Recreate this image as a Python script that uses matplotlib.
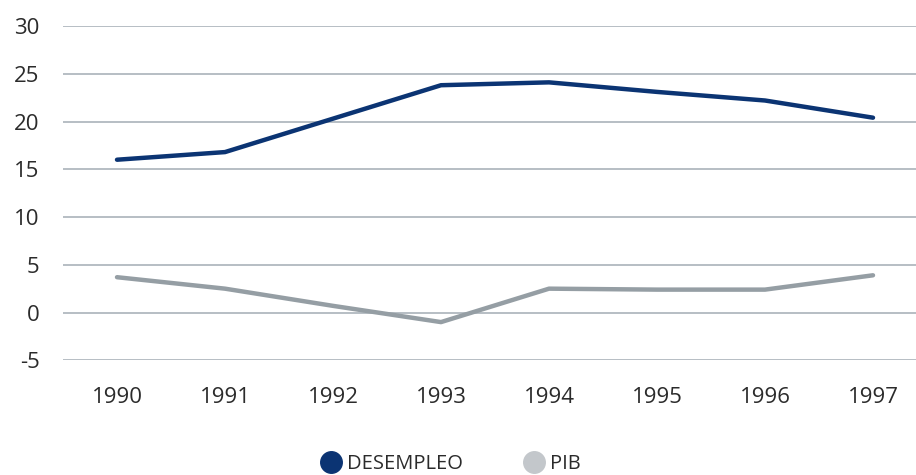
import matplotlib
matplotlib.use("Agg")
import matplotlib.pyplot as plt
from matplotlib.lines import Line2D

years = ["1990", "1991", "1992", "1993", "1994", "1995", "1996", "1997"]
desempleo = [16.0, 16.8, 20.3, 23.8, 24.1, 23.1, 22.2, 20.4]
pib = [3.7, 2.5, 0.7, -1.0, 2.5, 2.4, 2.4, 3.9]
yticks = [-5, 0, 5, 10, 15, 20, 25, 30]

navy = "#0B3473"
grey = "#959EA4"
grey_leg = "#C3C7CB"
grid = "#A3ACB4"
txt = "#2B2B2B"

plt.rcParams['font.family'] = ['Open Sans', 'DejaVu Sans']

fig = plt.figure(figsize=(9.16, 4.75), dpi=100)
W, H = 916, 475
top_px, bot_px = 26, 360.3
ax = fig.add_axes([63 / W, 1 - bot_px / H, (927 - 63) / W, (bot_px - top_px) / H])
x = list(range(len(years)))
ax.plot(x, desempleo, color=navy, lw=3.2, solid_capstyle='round', solid_joinstyle='round', zorder=3)
ax.plot(x, pib, color=grey, lw=3.2, solid_capstyle='round', solid_joinstyle='round', zorder=3)
ax.set_xlim(-0.5, 7.5)
ax.set_ylim(-5, 30)
ax.set_yticks(yticks)
ax.set_yticklabels([str(v) for v in yticks])
ax.set_xticks(x)
ax.set_xticklabels(years)
for v in yticks:
    ax.axhline(v, color=grid, lw=1.1, zorder=1)
for s in ax.spines.values():
    s.set_visible(False)
ax.tick_params(axis='both', length=0, labelsize=16, colors=txt)
ax.tick_params(axis='y', pad=17)
ax.tick_params(axis='x', pad=19)

handles = [
    Line2D([], [], linestyle='none', marker='o', markersize=15.5, markerfacecolor=navy, markeredgecolor=navy),
    Line2D([], [], linestyle='none', marker='o', markersize=15.5, markerfacecolor=grey_leg, markeredgecolor=grey_leg),
]
leg = fig.legend(handles, ["DESEMPLEO", "PIB"], loc='center', bbox_to_anchor=(451 / W, 1 - 464 / H),
                 ncol=2, frameon=False, fontsize=14.5, handletextpad=0.3, columnspacing=3.0,
                 handlelength=1.0, borderaxespad=0)
for t in leg.get_texts():
    t.set_color(txt)

fig.savefig("out.png", dpi=100)
